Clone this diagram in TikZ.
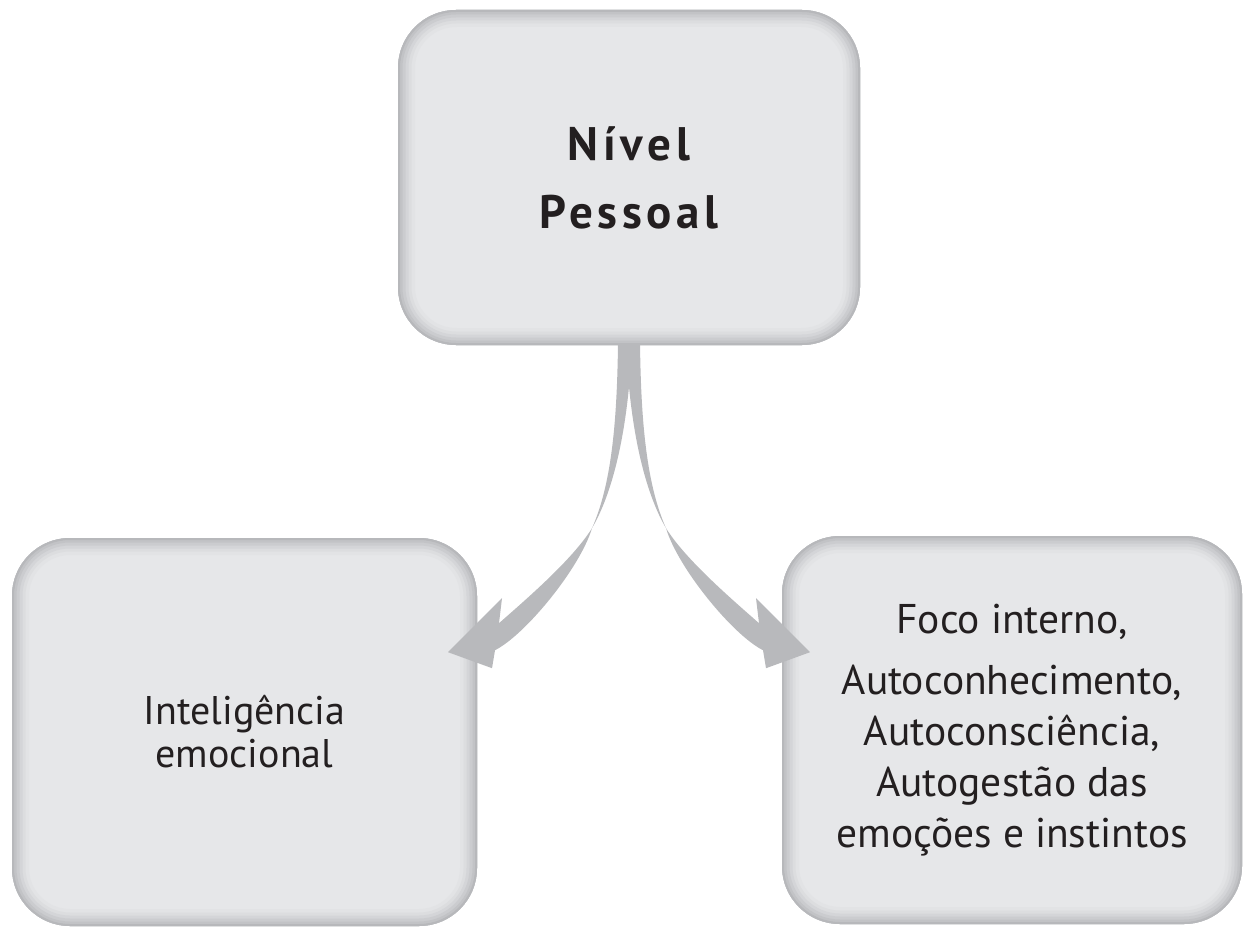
\documentclass[tikz,border=0pt]{standalone}
\usepackage{fontspec}
\setmainfont{PT Sans}
\newfontfamily\headfont[LetterSpace=10]{PT Sans}
\usetikzlibrary{positioning}

\definecolor{boxfill}{HTML}{E6E7E9}
\definecolor{edgeA}{HTML}{B7B8BB}
\definecolor{edgeB}{HTML}{C2C3C6}
\definecolor{edgeC}{HTML}{CBCCCF}
\definecolor{edgeD}{HTML}{D4D5D8}
\definecolor{edgeE}{HTML}{DCDDDF}
\definecolor{edgeF}{HTML}{E2E3E5}
\definecolor{arrowgray}{HTML}{B8B9BC}
\definecolor{ink}{HTML}{231F20}

% one ring of the soft inner shadow of a box
\newcommand{\edgering}[2]{\draw[#2, line width=#1, rounded corners=58pt, yshift=3pt]
	(path picture bounding box.south west) rectangle (path picture bounding box.north east);}

\begin{document}
\begin{tikzpicture}[
		x=1pt, y=-1pt,
		box/.style = {rounded corners=58pt, fill=boxfill, inner sep=0pt, align=center, text=ink,
			path picture={
				\edgering{34pt}{edgeF}
				\edgering{27pt}{edgeE}
				\edgering{21pt}{edgeD}
				\edgering{15pt}{edgeC}
				\edgering{9pt}{edgeB}
				\edgering{4pt}{edgeA}
			}},
		body/.style = {font=\fontsize{40}{43}\selectfont},
		ribbon/.style = {fill=arrowgray}
	]
	\useasboundingbox (0,0) rectangle (1244,928);
	% Top box.
	\node[box, minimum width=462pt, minimum height=335pt,
		font=\headfont\bfseries\fontsize{47}{68}\selectfont] (top) at (629,177.5) {Nível\\Pessoal};
	% Bottom boxes.
	\node[box, body, minimum width=465pt, minimum height=388pt] (emo) at (244.5,732) {Inteligência\\emocional};
	\node[box, minimum width=460pt, minimum height=388pt,
		font=\fontsize{41.5}{51}\selectfont] (foco) at (1012,730)
		{Foco interno,\\[10pt]Autoconhecimento,\\Autoconsciência,\\Autogestão das\\emoções e instintos};

	% Left arrow.
	\begin{scope}[shift={(top.south)}]
		\fill[ribbon] (-11,-2) .. controls (-12,80) and (-18,140) .. (-37,183)
			.. controls (-57,215) and (-104,255) .. (-130,278)
			-- (-127,253) -- (-181,307) -- (-137,323) -- (-134,305)
			.. controls (-104,290) and (-49,223) .. (-37,183)
			.. controls (-12,140) and (0,70) .. (3,-2) -- cycle;
	\end{scope}
	% Right arrow.
	\begin{scope}[shift={(top.south)}, xscale=-1]
		\fill[ribbon] (-11,-2) .. controls (-12,80) and (-18,140) .. (-37,183)
			.. controls (-57,215) and (-104,255) .. (-130,278)
			-- (-127,253) -- (-181,307) -- (-137,323) -- (-134,305)
			.. controls (-104,290) and (-49,223) .. (-37,183)
			.. controls (-12,140) and (0,70) .. (3,-2) -- cycle;
	\end{scope}
\end{tikzpicture}
\end{document}
